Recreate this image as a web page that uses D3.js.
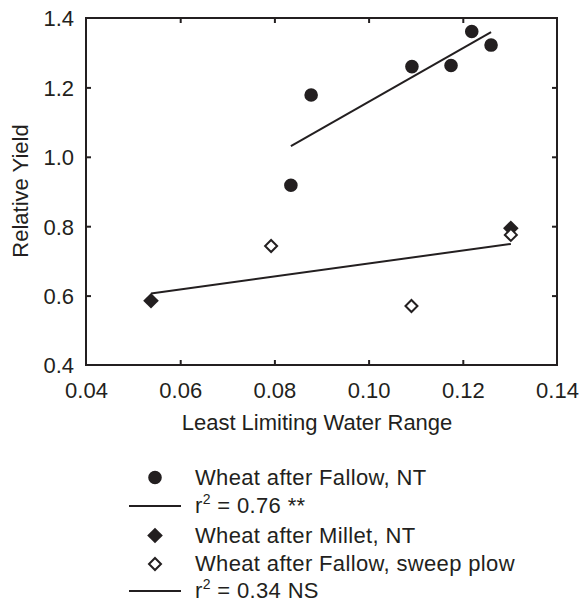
<!DOCTYPE html>
<html><head><meta charset="utf-8">
<script src="https://cdn.jsdelivr.net/npm/d3@7"></script>
<style>
body{margin:0;background:#fff;}
text{font-family:"Liberation Sans",Arial,Helvetica,sans-serif;fill:#231f20;}
</style></head>
<body><svg id="c" width="582" height="603"></svg>
<script>
// Data
const fallowNT_x = [0.0835, 0.0878, 0.1092, 0.1175, 0.1219, 0.1260];
const fallowNT_y = [0.918, 1.178, 1.260, 1.263, 1.361, 1.322];
const milletNT_x = [0.0538, 0.1302];
const milletNT_y = [0.585, 0.794];
const sweep_x = [0.0793, 0.1091, 0.1302];
const sweep_y = [0.743, 0.570, 0.775];
const fit1_x = [0.0835, 0.1260];
const fit1_y = [1.031, 1.359];
const fit2_x = [0.0538, 0.1302];
const fit2_y = [0.606, 0.749];
const xTicks = [0.04, 0.06, 0.08, 0.10, 0.12, 0.14];
const yTicks = [0.4, 0.6, 0.8, 1.0, 1.2, 1.4];
const legendLabels = ["Wheat after Fallow, NT", "r2 = 0.76 **", "Wheat after Millet, NT", "Wheat after Fallow, sweep plow", "r2 = 0.34 NS"];

const ink = "#231f20";
const svg = d3.select("#c");
const L = 86, R = 557, T = 18, B = 365;
const x = d3.scaleLinear().domain([0.04, 0.14]).range([L, R]);
const y = d3.scaleLinear().domain([0.4, 1.4]).range([B, T]);
const FS = 22;

// axes
const gB = svg.append("g").attr("transform", `translate(0,${B})`)
  .call(d3.axisBottom(x).tickValues(xTicks).tickSize(-5).tickPadding(17).tickFormat(d3.format(".2f")));
const gT = svg.append("g").attr("transform", `translate(0,${T})`)
  .call(d3.axisTop(x).tickValues(xTicks.slice(1, -1)).tickSize(-5).tickFormat(""));
const gL = svg.append("g").attr("transform", `translate(${L},0)`)
  .call(d3.axisLeft(y).tickValues(yTicks).tickSize(-5).tickPadding(12).tickFormat(d3.format(".1f")));
const gR = svg.append("g").attr("transform", `translate(${R},0)`)
  .call(d3.axisRight(y).tickValues(yTicks.slice(1, -1)).tickSize(-5).tickFormat(""));
[gB, gT, gL, gR].forEach(g => {
  g.select(".domain").remove();
  g.selectAll("line").attr("stroke", ink).attr("stroke-width", 2);
  g.selectAll("text").attr("font-size", FS).attr("fill", ink).style("font-family", '"Liberation Sans",Arial,sans-serif');
});
// remove ticks at corners
gB.selectAll(".tick").filter(d => d === 0.04 || d === 0.14).select("line").remove();
gL.selectAll(".tick").filter(d => d === 0.4 || d === 1.4).select("line").remove();
gL.selectAll(".tick text").attr("dy", "0.36em");

svg.append("rect").attr("x", L).attr("y", T).attr("width", R - L).attr("height", B - T)
  .attr("fill", "none").attr("stroke", ink).attr("stroke-width", 2);

// axis titles
svg.append("text").attr("x", 317).attr("y", 430).attr("text-anchor", "middle")
  .attr("font-size", FS).text("Least Limiting Water Range");
svg.append("text").attr("transform", "translate(28,191) rotate(-90)").attr("text-anchor", "middle")
  .attr("font-size", FS).text("Relative Yield");

// fit lines
const line = d3.line().x(d => x(d[0])).y(d => y(d[1]));
svg.append("path").datum(d3.zip(fit1_x, fit1_y)).attr("d", line)
  .attr("fill", "none").attr("stroke", ink).attr("stroke-width", 2);
svg.append("path").datum(d3.zip(fit2_x, fit2_y)).attr("d", line)
  .attr("fill", "none").attr("stroke", ink).attr("stroke-width", 2);

// markers
const circ = d3.symbol().type(d3.symbolCircle).size(Math.PI * 6.8 * 6.8);
function diamond(h) { return `M0,${-h}L${h},0L0,${h}L${-h},0Z`; }

svg.append("g").selectAll("path").data(d3.zip(fallowNT_x, fallowNT_y)).join("path")
  .attr("transform", d => `translate(${x(d[0])},${y(d[1])})`).attr("d", circ).attr("fill", ink);
svg.append("g").selectAll("path").data(d3.zip(milletNT_x, milletNT_y)).join("path")
  .attr("transform", d => `translate(${x(d[0])},${y(d[1])})`).attr("d", diamond(7.8)).attr("fill", ink);
svg.append("g").selectAll("path").data(d3.zip(sweep_x, sweep_y)).join("path")
  .attr("transform", d => `translate(${x(d[0])},${y(d[1])})`).attr("d", diamond(6))
  .attr("fill", "#fff").attr("stroke", ink).attr("stroke-width", 2);

// legend
const lg = svg.append("g");
const rowsY = [477.5, 506, 535.5, 564, 591];
const kinds = ["circle", "line", "fdiamond", "odiamond", "line"];
kinds.forEach((k, i) => {
  const cy = rowsY[i];
  if (k === "circle") lg.append("path").attr("transform", `translate(155,${cy})`).attr("d", circ).attr("fill", ink);
  if (k === "line") lg.append("line").attr("x1", 129).attr("x2", 181).attr("y1", cy).attr("y2", cy).attr("stroke", ink).attr("stroke-width", 2);
  if (k === "fdiamond") lg.append("path").attr("transform", `translate(155,${cy})`).attr("d", diamond(7.8)).attr("fill", ink);
  if (k === "odiamond") lg.append("path").attr("transform", `translate(155,${cy})`).attr("d", diamond(6)).attr("fill", "#fff").attr("stroke", ink).attr("stroke-width", 2);
  const t = lg.append("text").attr("x", 195).attr("y", cy + 7).attr("font-size", FS)
    .attr("letter-spacing", "0.35px");
  const lab = legendLabels[i];
  if (lab.startsWith("r2")) {
    t.append("tspan").text("r");
    t.append("tspan").attr("font-size", 14).attr("dy", -9).text("2");
    t.append("tspan").attr("dy", 9).text(lab.slice(2));
  } else t.text(lab);
});
</script></body></html>
